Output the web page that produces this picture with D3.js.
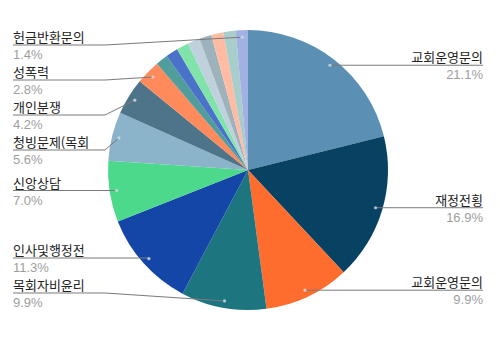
<!DOCTYPE html>
<html>
<head>
	<meta charset="utf-8">
	<title>Pie chart</title>
	<script type="text/javascript" src="https://cdn.jsdelivr.net/npm/d3@7"></script>
	<style type="text/css">
		body {
			margin: 0;
			background: #ffffff;
		}
		text {
			font-family: "Noto Sans CJK KR", "Noto Sans", sans-serif;
			font-size: 13px;
		}
		text.pct {
			font-family: "Liberation Sans", Arial, sans-serif;
		}
	</style>
</head>
<body>
	<script type="text/javascript">
		// Data (counts, total 71)
		var categories = ["교회운영문의", "재정전횡", "교회운영문의 ", "목회자비윤리", "인사및행정전",
			"신앙상담", "청빙문제(목회", "개인분쟁", "성폭력",
			"기타1", "기타2", "기타3", "기타4", "기타5", "기타6", "기타7", "헌금반환문의"];
		var counts = [15, 12, 7, 7, 8, 5, 4, 3, 2, 1, 1, 1, 1, 1, 1, 1, 1];
		var colors = ["#5b8fb3", "#074263", "#ff6d2e", "#1d7580", "#1446a8", "#4cd98c", "#8bb3c9",
			"#4d7488", "#ff8a5c", "#519d9c", "#4a72c8", "#80e3aa", "#bfd1dd", "#9eb2bc",
			"#ffbca3", "#a9cdcb", "#a2b1e4"];
		// which slices get a label
		var labelled = [true, true, true, true, true, true, true, true, true,
			false, false, false, false, false, false, false, true];

		var width = 500;
		var height = 340;
		var cx = 248;
		var cy = 170;
		var radius = 140;

		var svg = d3.select("body").append("svg")
			.attr("width", width)
			.attr("height", height);

		var total = d3.sum(counts);

		var pie = d3.pie()
			.sort(null)
			.value(function(d) { return d; });
		var arcs = pie(counts);

		var arc = d3.arc()
			.innerRadius(0)
			.outerRadius(radius);

		var g = svg.append("g")
			.attr("transform", "translate(" + cx + "," + cy + ")");

		g.selectAll("path")
			.data(arcs)
			.enter()
			.append("path")
			.attr("d", arc)
			.attr("fill", function(d, i) { return colors[i]; });

		// Label anchor points inside slices
		var dotR = radius * 0.95;
		var labels = [];
		arcs.forEach(function(a, i) {
			if (!labelled[i]) return;
			var mid = (a.startAngle + a.endAngle) / 2;
			var x = cx + dotR * Math.sin(mid);
			var y = cy - dotR * Math.cos(mid);
			labels.push({
				name: categories[i].trim(),
				pct: (counts[i] / total * 100).toFixed(1) + "%",
				dx: x,
				dy: y,
				ly: y,
				side: x > cx ? "right" : "left"
			});
		});

		// Spread labels on each side
		function spread(list, minY, maxY, gap) {
			list.sort(function(a, b) { return a.dy - b.dy; });
			list.forEach(function(l) { l.ly = Math.max(minY, Math.min(maxY, l.ly)); });
			for (var i = 1; i < list.length; i++) {
				list[i].ly = Math.max(list[i].ly, list[i - 1].ly + gap);
			}
			if (list.length) list[list.length - 1].ly = Math.min(list[list.length - 1].ly, maxY);
			for (var j = list.length - 2; j >= 0; j--) {
				list[j].ly = Math.min(list[j].ly, list[j + 1].ly - gap);
			}
		}
		var left = labels.filter(function(l) { return l.side == "left"; });
		var right = labels.filter(function(l) { return l.side == "right"; });
		spread(left, 45, 293, 35);
		spread(right, 45, 293, 35);

		var textLeft = 13;
		var textRight = 483;
		var elbowLeft = 105;

		var lab = svg.append("g");

		lab.selectAll("path.leader")
			.data(labels)
			.enter()
			.append("path")
			.attr("class", "leader")
			.attr("fill", "none")
			.attr("stroke", "#7a7a7a")
			.attr("stroke-width", 1)
			.attr("d", function(l) {
				if (l.side == "left") {
					var ex = Math.min(elbowLeft, l.dx);
					if (Math.abs(l.ly - l.dy) < 1) ex = l.dx;
					return "M" + textLeft + "," + l.ly + "L" + ex + "," + l.ly + "L" + l.dx + "," + l.dy;
				}
				return "M" + l.dx + "," + l.dy + "L" + l.dx + "," + l.ly + "L" + textRight + "," + l.ly;
			});

		lab.selectAll("circle")
			.data(labels)
			.enter()
			.append("circle")
			.attr("cx", function(l) { return l.dx; })
			.attr("cy", function(l) { return l.dy; })
			.attr("r", 1.6)
			.attr("fill", "#d6dde2")
			.attr("opacity", 0.8);

		lab.selectAll("text.name")
			.data(labels)
			.enter()
			.append("text")
			.attr("class", "name")
			.attr("x", function(l) { return l.side == "left" ? textLeft : textRight; })
			.attr("y", function(l) { return l.ly - 3; })
			.attr("text-anchor", function(l) { return l.side == "left" ? "start" : "end"; })
			.attr("fill", "#222222")
			.text(function(l) { return l.name; });

		lab.selectAll("text.pct")
			.data(labels)
			.enter()
			.append("text")
			.attr("class", "pct")
			.attr("x", function(l) { return l.side == "left" ? textLeft : textRight; })
			.attr("y", function(l) { return l.ly + 14; })
			.attr("text-anchor", function(l) { return l.side == "left" ? "start" : "end"; })
			.attr("fill", "#9e9e9e")
			.text(function(l) { return l.pct; });
	</script>
</body>
</html>
